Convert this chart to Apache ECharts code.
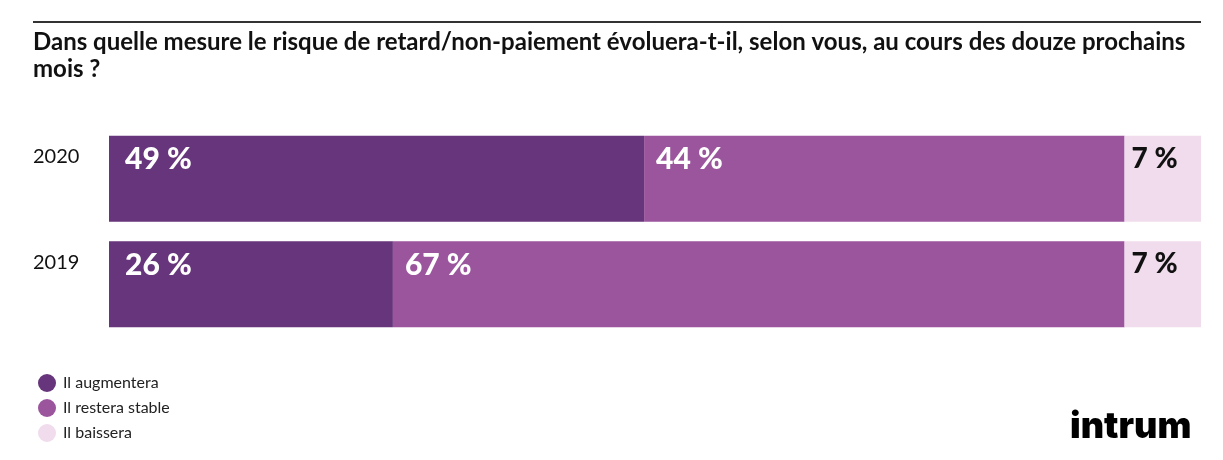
<!DOCTYPE html>
<html><head><meta charset="utf-8">
<script src="https://cdn.jsdelivr.net/npm/echarts@6/dist/echarts.min.js"></script>
<style>html,body{margin:0;padding:0;background:#fff}#c{width:1223px;height:460px}</style>
</head><body><div id="c"></div>
<script>
const titleText = 'Dans quelle mesure le risque de retard/non-paiement évoluera-t-il, selon vous, au cours des douze prochains\nmois ?';
const categories = ['2020', '2019'];
const seriesNames = ['Il augmentera', 'Il restera stable', 'Il baissera'];
const augmentera = [49, 26];
const stable = [44, 67];
const baissera = [7, 7];
const colors = ['#67357B', '#9A559D', '#F0DCEC'];

const chart = echarts.init(document.getElementById('c'));
const values = [augmentera, stable, baissera];
const labelColors = ['#fff', '#fff', '#111'];
const labelPos = [[16, 9], [12, 9], [7, 9]];
chart.setOption({
  animation: false,
  textStyle: { fontFamily: 'Lato' },
  title: {
    text: titleText, left: 28, top: 24,
    textStyle: { fontFamily: 'Lato', fontWeight: 'bold', fontSize: 24, color: '#111', lineHeight: 27 }
  },
  graphic: [
    { type: 'rect', shape: { x: 33, y: 21, width: 1168, height: 2 }, style: { fill: '#333' } },
    { type: 'text', left: 1070, top: 409, style: { text: 'intrum', fontFamily: 'Inter', fontWeight: 900, fontSize: 36, fill: '#000' } }
  ],
  legend: {
    orient: 'vertical', left: 33, top: 369, icon: 'circle', itemWidth: 18, itemHeight: 18, itemGap: 7,
    textStyle: { fontFamily: 'Lato', fontSize: 16, color: '#222', padding: [0, 0, 0, 2] },
    data: seriesNames
  },
  grid: { left: 109, right: 22, top: 126, bottom: 123 },
  xAxis: { type: 'value', min: 0, max: 100, show: false },
  yAxis: {
    type: 'category', data: categories, inverse: true,
    axisLine: { show: false }, axisTick: { show: false },
    axisLabel: { align: 'left', margin: 76, verticalAlign: 'bottom', padding: [0, 0, 12, 0], fontFamily: 'Lato', fontSize: 20, color: '#111' }
  },
  series: seriesNames.map((n, i) => ({
    name: n, type: 'bar', stack: 'all', barWidth: 86, data: values[i],
    itemStyle: { color: colors[i] },
    label: { show: true, position: labelPos[i], formatter: '{c} %', fontFamily: 'Lato', fontWeight: 900, fontSize: i === 2 ? 28 : 30, color: labelColors[i] }
  }))
});
</script></body></html>
